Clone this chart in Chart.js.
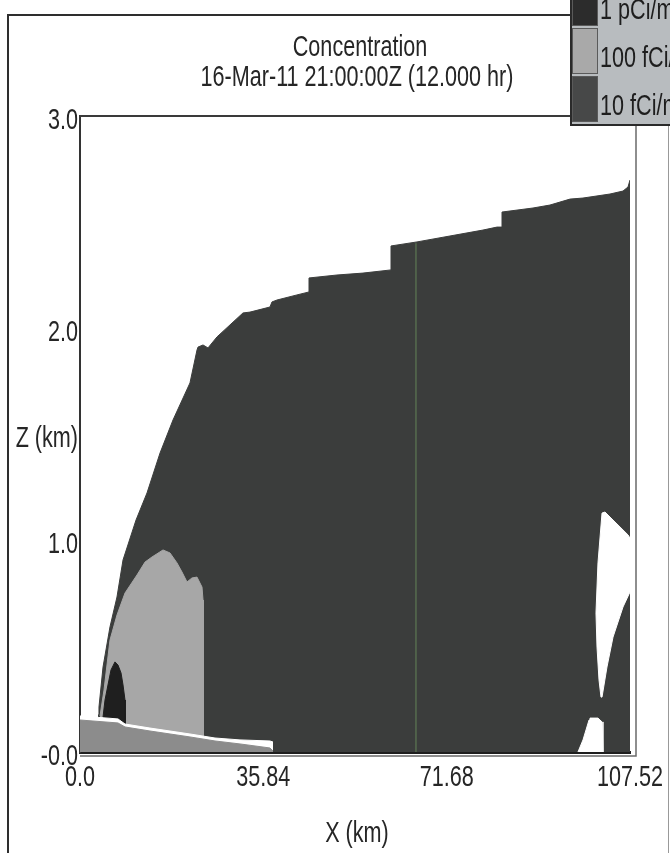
<!DOCTYPE html>
<html>
<head>
<meta charset="utf-8">
<script src="https://cdn.jsdelivr.net/npm/chart.js@4.4.1/dist/chart.umd.min.js"></script>
<style>
  html, body { margin: 0; padding: 0; background: #ffffff; }
  #chart { display: block; }
</style>
</head>
<body>
<canvas id="chart" width="670" height="853"></canvas>
<script>
// axis ticks
var xTicks = [0, 35.84, 71.68, 107.52];
var xTickLabels = ['0.0', '35.84', '71.68', '107.52'];
var yTicks = [0, 1, 2, 3];
var yTickLabels = ['-0.0', '1.0', '2.0', '3.0'];

// legend
var legendLabels = ['1 pCi/m\u00b3', '100 fCi/m\u00b3', '10 fCi/m\u00b3'];

// 10 fCi/m3 envelope (top edge), x in km, z in km
var tenX = [3.52, 3.71, 4.50, 5.86, 7.23, 8.41, 10.95, 13.10, 15.64, 18.18, 21.50, 22.87, 23.07, 24.05, 25.02, 26.78, 31.86, 33.23, 37.14, 37.53, 38.51, 42.42, 44.77, 44.77, 50.24, 55.32, 60.80, 60.80, 65.88, 72.33, 78.78, 81.52, 82.50, 82.50, 88.56, 91.88, 95.79, 98.33, 103.61, 106.15, 107.13, 107.52];
var tenZ = [0.175, 0.212, 0.401, 0.590, 0.731, 0.906, 1.094, 1.222, 1.410, 1.566, 1.741, 1.896, 1.910, 1.920, 1.906, 1.958, 2.071, 2.075, 2.099, 2.123, 2.132, 2.156, 2.170, 2.236, 2.250, 2.259, 2.274, 2.387, 2.406, 2.434, 2.462, 2.476, 2.476, 2.547, 2.566, 2.580, 2.608, 2.613, 2.632, 2.646, 2.665, 2.698];

// 100 fCi/m3 plume
var hundredX = [3.91, 4.69, 5.86, 7.23, 8.80, 11.14, 12.71, 14.08, 16.23, 17.59, 18.96, 19.94, 20.92, 21.89, 22.87, 23.85, 24.05, 24.10, 24.15];
var hundredZ = [0.170, 0.292, 0.528, 0.646, 0.750, 0.835, 0.896, 0.920, 0.953, 0.939, 0.892, 0.849, 0.802, 0.821, 0.825, 0.778, 0.717, 0.245, 0.057];

// 1 pCi/m3 core
var pciX = [4.50, 4.89, 5.47, 6.06, 6.84, 7.43, 8.02, 8.41, 8.80, 8.89];
var pciZ = [0.165, 0.245, 0.316, 0.387, 0.425, 0.410, 0.373, 0.316, 0.245, 0.118];

// clear wedge near the right edge (upper and lower edge)
var wedgeTopX = [100.87, 101.26, 102.05, 102.63, 104.59, 107.13, 107.52];
var wedgeTopZ = [0.656, 0.892, 1.127, 1.132, 1.085, 1.024, 1.009];
var wedgeBotX = [100.87, 101.07, 101.46, 101.85, 102.05, 103.02, 104.20, 106.15, 107.52];
var wedgeBotZ = [0.656, 0.495, 0.340, 0.259, 0.259, 0.401, 0.542, 0.684, 0.755];

// clear notch at the bottom right
var notchX = [97.35, 98.33, 98.92, 99.51, 99.70, 101.26, 102.05, 102.24];
var notchZ = [0, 0.057, 0.104, 0.151, 0.160, 0.160, 0.142, 0];

// terrain: white band top and gray ground top
var bandX = [0, 7.43, 8.80, 13.68, 21.50, 26.39, 31.28, 37.14, 37.73];
var bandZ = [0.170, 0.156, 0.132, 0.113, 0.085, 0.066, 0.057, 0.052, 0.047];
var groundZ = [0.151, 0.137, 0.118, 0.099, 0.071, 0.052, 0.038, 0.019, 0.005];

// faint vertical trace
var traceX = [65.68, 65.68];
var traceZ = [0, 2.40];

var FONT = "'Liberation Sans', Arial, sans-serif";
var FONT_SIZE = 30;
var NARROW = 0.72;
var INK = '#262626';
var C_PCI = '#1f1f1f';
var C_HUNDRED = '#a7a7a7';
var C_TEN = '#3b3d3c';
var C_GROUND = '#8c8c8c';
var legendColors = ['#2c2c2c', '#a9a9a9', '#474848'];

function pts(xs, zs) {
    return xs.map(function (x, i) { return { x: x, y: zs[i] }; });
}

function area(data, color, fill) {
    return {
        data: data,
        backgroundColor: color,
        borderColor: color,
        borderWidth: 1,
        pointRadius: 0,
        fill: fill
    };
}

// condensed text like the original plot font
function narrowText(ctx, text, x, y, align) {
    ctx.save();
    ctx.translate(x, y);
    ctx.scale(NARROW, 1);
    ctx.textAlign = align;
    ctx.fillText(text, 0, 0);
    ctx.restore();
}

var datasets = [
    area(pts(tenX, tenZ), C_TEN, 'origin'),
    area(pts(hundredX, hundredZ), C_HUNDRED, 'origin'),
    area(pts(pciX, pciZ), C_PCI, 'origin'),
    { data: pts(traceX, traceZ), borderColor: 'rgba(110,150,95,0.8)', borderWidth: 1, pointRadius: 0, fill: false },
    area(pts(wedgeTopX, wedgeTopZ), '#ffffff', '+1'),
    area(pts(wedgeBotX, wedgeBotZ), '#ffffff', false),
    area(pts(notchX, notchZ), '#ffffff', 'origin'),
    area(pts(bandX, bandZ), '#ffffff', 'origin'),
    area(pts(bandX, groundZ), C_GROUND, 'origin')
];
datasets.forEach(function (d, i) { d.order = 100 - i; });

var decorations = {
    id: 'decorations',
    afterDraw: function (chart) {
        var ctx = chart.ctx;
        var a = chart.chartArea;
        var xs = chart.scales.x;
        var ys = chart.scales.y;
        ctx.save();

        // outer frame
        ctx.strokeStyle = '#2e2e2e';
        ctx.lineWidth = 2;
        ctx.beginPath();
        ctx.moveTo(8, 853);
        ctx.lineTo(8, 15);
        ctx.lineTo(570, 15);
        ctx.stroke();
        ctx.strokeStyle = '#999';
        ctx.lineWidth = 1;
        ctx.beginPath();
        ctx.moveTo(668.5, 125);
        ctx.lineTo(668.5, 853);
        ctx.stroke();

        // plot frame
        ctx.strokeStyle = '#3a3a3a';
        ctx.lineWidth = 2;
        ctx.beginPath();
        ctx.moveTo(a.left, a.top);
        ctx.lineTo(570, a.top);
        ctx.stroke();
        ctx.strokeStyle = '#6a6a6a';
        ctx.lineWidth = 1.5;
        ctx.beginPath();
        ctx.moveTo(a.right + 6, 125);
        ctx.lineTo(a.right + 6, a.bottom + 4);
        ctx.lineTo(a.left, a.bottom + 4);
        ctx.stroke();

        // titles and axis labels
        ctx.fillStyle = INK;
        ctx.font = FONT_SIZE + 'px ' + FONT;
        ctx.textBaseline = 'alphabetic';
        narrowText(ctx, 'Concentration', 360, 56, 'center');
        narrowText(ctx, '16-Mar-11 21:00:00Z (12.000 hr)', 357, 86, 'center');
        narrowText(ctx, 'Z (km)', 78, 447, 'right');
        narrowText(ctx, 'X (km)', (a.left + a.right) / 2 + 2, 842, 'center');
        xTicks.forEach(function (v, i) {
            narrowText(ctx, xTickLabels[i], xs.getPixelForValue(v), 786, 'center');
        });
        yTicks.forEach(function (v, i) {
            narrowText(ctx, yTickLabels[i], 78, ys.getPixelForValue(v) + 13, 'right');
        });

        // legend
        ctx.fillStyle = '#b8bcbf';
        ctx.fillRect(570, 0, 100, 125);
        ctx.strokeStyle = '#2a2a2a';
        ctx.lineWidth = 2;
        ctx.beginPath();
        ctx.moveTo(571, 0);
        ctx.lineTo(571, 125);
        ctx.lineTo(670, 125);
        ctx.stroke();
        legendLabels.forEach(function (label, i) {
            var top = -20 + i * 48;
            ctx.fillStyle = legendColors[i];
            ctx.fillRect(572, top, 25, 45);
            ctx.strokeStyle = '#5a5a5a';
            ctx.lineWidth = 1;
            ctx.strokeRect(572.5, top + 0.5, 25, 45);
            ctx.fillStyle = '#1e1e1e';
            narrowText(ctx, label, 600, top + 39, 'left');
        });

        ctx.restore();
    }
};

new Chart(document.getElementById('chart'), {
    type: 'line',
    data: { datasets: datasets },
    options: {
        responsive: false,
        animation: false,
        devicePixelRatio: 1,
        layout: { padding: { top: 116, right: 40, left: 0, bottom: 0 } },
        plugins: {
            legend: { display: false },
            tooltip: { enabled: false }
        },
        scales: {
            x: {
                type: 'linear',
                min: 0,
                max: 107.52,
                afterBuildTicks: function (s) { s.ticks = xTicks.map(function (v) { return { value: v }; }); },
                afterFit: function (s) { s.height = 101; },
                ticks: { display: false },
                grid: { display: false, drawTicks: false },
                border: { color: '#1e1e1e', width: 3 }
            },
            y: {
                min: 0,
                max: 3,
                afterBuildTicks: function (s) { s.ticks = yTicks.map(function (v) { return { value: v }; }); },
                afterFit: function (s) { s.width = 80; },
                ticks: { display: false },
                grid: { display: false, drawTicks: false },
                border: { color: '#333333', width: 2 }
            }
        }
    },
    plugins: [decorations]
});
</script>
</body>
</html>
